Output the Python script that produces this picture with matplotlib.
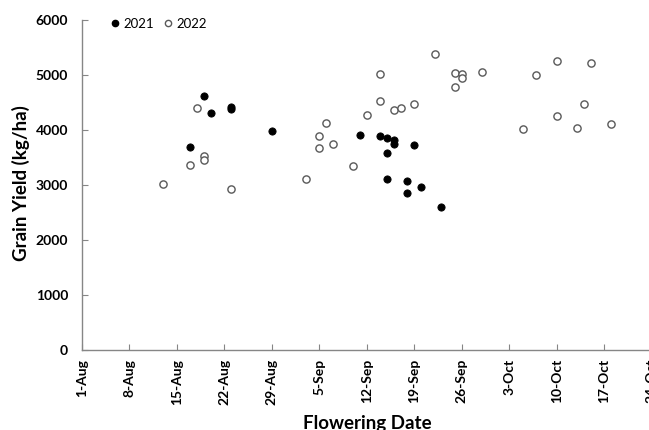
import pandas as pd
import matplotlib
matplotlib.use("Agg")
import matplotlib.pyplot as plt
import matplotlib.dates as mdates
from matplotlib.lines import Line2D

plt.rcParams["font.family"] = ["Lato", "DejaVu Sans"]

# flowering date / grain yield (kg/ha)
dates_2021 = ["17-Aug", "19-Aug", "20-Aug", "23-Aug", "23-Aug", "29-Aug",
              "11-Sep", "14-Sep", "15-Sep", "15-Sep", "15-Sep", "16-Sep",
              "16-Sep", "18-Sep", "18-Sep", "19-Sep", "20-Sep", "23-Sep"]
yield_2021 = [3685, 4624, 4304, 4413, 4376, 3982,
              3915, 3885, 3849, 3576, 3109, 3818,
              3751, 3073, 2849, 3722, 2964, 2605]

dates_2022 = ["13-Aug", "17-Aug", "18-Aug", "19-Aug", "19-Aug", "23-Aug",
              "3-Sep", "5-Sep", "5-Sep", "6-Sep", "7-Sep", "10-Sep",
              "12-Sep", "14-Sep", "14-Sep", "16-Sep", "17-Sep", "19-Sep",
              "22-Sep", "25-Sep", "25-Sep", "26-Sep", "26-Sep", "29-Sep",
              "5-Oct", "7-Oct", "10-Oct", "10-Oct", "13-Oct", "14-Oct",
              "15-Oct", "18-Oct"]
yield_2022 = [3013, 3364, 4400, 3522, 3455, 2933,
              3104, 3896, 3673, 4127, 3740, 3351,
              4267, 5013, 4527, 4369, 4395, 4467,
              5382, 5031, 4787, 5013, 4945, 5060,
              4013, 4995, 5255, 4255, 4042, 4467,
              5224, 4109]

y_ticks = [0, 1000, 2000, 3000, 4000, 5000, 6000]


def to_dt(days):
    return pd.to_datetime([d + "-2021" for d in days], format="%d-%b-%Y")


W, H = 649, 430
fig = plt.figure(figsize=(W / 100, H / 100), dpi=100)
ax = fig.add_axes([82 / W, 80 / H, (699 - 82) / W, 330 / H])

ax.plot(to_dt(dates_2022), yield_2022, "o", ms=5.2, mfc="white",
        mec="#595959", mew=1.0, ls="none", zorder=3)
ax.plot(to_dt(dates_2021), yield_2021, "o", ms=5.2, mfc="black",
        mec="black", mew=0.6, ls="none", zorder=4)

ax.set_xlim(pd.Timestamp("2021-08-01"), pd.Timestamp("2021-10-31"))
ax.set_ylim(0, 6000)

xt = pd.date_range("2021-08-01", "2021-10-31", freq="7D")
ax.set_xticks(mdates.date2num(xt))
ax.set_xticklabels([f"{d.day}-{d.strftime('%b')}" for d in xt],
                   rotation=90, fontsize=10, fontweight="bold")
ax.set_yticks(y_ticks)
ax.set_yticklabels([str(v) for v in y_ticks], fontsize=10, fontweight="bold")

ax.tick_params(axis="x", direction="in", length=4, width=0.8,
               color="#868686", pad=6.5)
ax.tick_params(axis="y", direction="in", length=4, width=0.8,
               color="#868686", pad=10)

for s in ["top", "right"]:
    ax.spines[s].set_visible(False)
for s in ["left", "bottom"]:
    ax.spines[s].set_color("#868686")
    ax.spines[s].set_linewidth(1.0)

fig.text(21 / W, (H - 183) / H, "Grain Yield (kg/ha)", rotation=90,
         ha="center", va="center", fontsize=13.5, fontweight="bold")
fig.text(367 / W, (H - 429) / H, "Flowering Date", ha="center",
         va="baseline", fontsize=13.5, fontweight="bold")

handles = [
    Line2D([], [], marker="o", ls="none", ms=4.5, mfc="black", mec="black"),
    Line2D([], [], marker="o", ls="none", ms=4.5, mfc="white",
           mec="#595959", mew=1.0),
]
fig.legend(handles, ["2021", "2022"], ncol=2, frameon=False,
           loc="center left", bbox_to_anchor=(110 / W, (H - 24) / H),
           borderpad=0, borderaxespad=0, handlelength=0.8,
           handletextpad=0.25, columnspacing=0.6, fontsize=9.5)

fig.savefig("out.png", dpi=100)
